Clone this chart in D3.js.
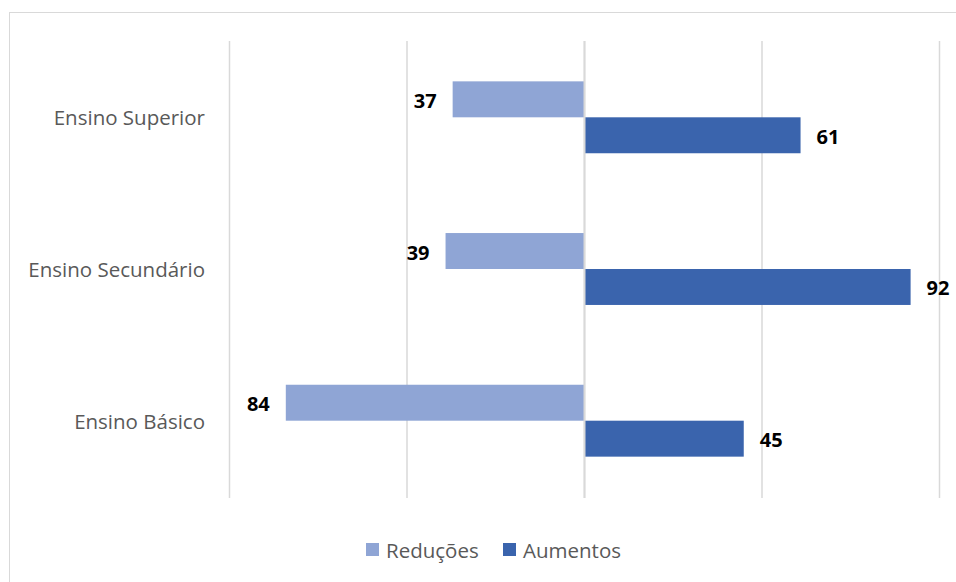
<!DOCTYPE html>
<html>
<head>
<meta charset="utf-8">
<script src="https://cdn.jsdelivr.net/npm/d3@7"></script>
<style>
  html, body { margin: 0; padding: 0; background: #fff; }
  svg { display: block; }
</style>
</head>
<body>
<script>
// Education levels, top to bottom
const categories = ["Ensino Superior", "Ensino Secundário", "Ensino Básico"];
const seriesNames = ["Reduções", "Aumentos"];
const reducoes = [37, 39, 84];
const aumentos = [61, 92, 45];
const gridTicks = [-100, -50, 0, 50, 100];

const W = 956, H = 582;
const colors = { "Reduções": "#8FA5D5", "Aumentos": "#3A64AD" };
const font = "'Open Sans', sans-serif";

const svg = d3.select("body").append("svg")
  .attr("width", W).attr("height", H);

// chart frame
svg.append("rect")
  .attr("x", 9.5).attr("y", 12.5)
  .attr("width", W + 20).attr("height", H + 20)
  .attr("fill", "#fff").attr("stroke", "#d9d9d9").attr("stroke-width", 1);

const x = d3.scaleLinear().domain([-100, 100]).range([229, 939]);
const y = d3.scaleBand().domain(categories).range([41, 497]).paddingInner(0.526).paddingOuter(0.266);
const sub = d3.scaleBand().domain(seriesNames).range([0, y.bandwidth()]);

// vertical gridlines
svg.append("g").selectAll("line").data(gridTicks).join("line")
  .attr("x1", d => x(d) + 0.5).attr("x2", d => x(d) + 0.5)
  .attr("y1", 41).attr("y2", 498)
  .attr("stroke", "#d9d9d9").attr("stroke-width", 1.5);

const rows = categories.map((c, i) => ({ c, red: reducoes[i], aum: aumentos[i] }));

const g = svg.append("g");
// reductions extend to the left of zero
g.selectAll("rect.red").data(rows).join("rect")
  .attr("class", "red")
  .attr("x", d => x(-d.red)).attr("width", d => x(0) - x(-d.red))
  .attr("y", d => y(d.c) + sub("Reduções")).attr("height", sub.bandwidth())
  .attr("fill", colors["Reduções"]);
// increases extend to the right of zero
g.selectAll("rect.aum").data(rows).join("rect")
  .attr("class", "aum")
  .attr("x", x(0)).attr("width", d => x(d.aum) - x(0))
  .attr("y", d => y(d.c) + sub("Aumentos")).attr("height", sub.bandwidth())
  .attr("fill", colors["Aumentos"]);

// zero axis line over the bars
svg.append("line")
  .attr("x1", x(0) + 0.5).attr("x2", x(0) + 0.5)
  .attr("y1", 41).attr("y2", 498)
  .attr("stroke", "#d9d9d9").attr("stroke-width", 2);

// value labels
g.selectAll("text.redl").data(rows).join("text")
  .attr("x", d => x(-d.red) - 16)
  .attr("y", d => y(d.c) + sub("Reduções") + sub.bandwidth() / 2 + 1)
  .attr("text-anchor", "end").attr("dominant-baseline", "central")
  .attr("font-family", font).attr("font-weight", "bold").attr("font-size", 20)
  .attr("fill", "#000").text(d => d.red);
g.selectAll("text.auml").data(rows).join("text")
  .attr("x", d => x(d.aum) + 16)
  .attr("y", d => y(d.c) + sub("Aumentos") + sub.bandwidth() / 2 + 1)
  .attr("text-anchor", "start").attr("dominant-baseline", "central")
  .attr("font-family", font).attr("font-weight", "bold").attr("font-size", 20)
  .attr("fill", "#000").text(d => d.aum);

// category labels
svg.append("g").selectAll("text").data(categories).join("text")
  .attr("x", 205).attr("y", d => y(d) + y.bandwidth() / 2)
  .attr("text-anchor", "end").attr("dominant-baseline", "central")
  .attr("font-family", font).attr("font-size", 20.5).attr("fill", "#595959")
  .text(d => d);

// legend
const legendItems = [{ n: "Reduções", x: 366 }, { n: "Aumentos", x: 503 }];
const lg = svg.append("g");
lg.selectAll("rect").data(legendItems).join("rect")
  .attr("x", d => d.x).attr("y", 543).attr("width", 13).attr("height", 13)
  .attr("fill", d => colors[d.n]);
lg.selectAll("text").data(legendItems).join("text")
  .attr("x", d => d.x + 20).attr("y", 550)
  .attr("dominant-baseline", "central")
  .attr("font-family", font).attr("font-size", 20.5).attr("fill", "#595959")
  .text(d => d.n);
</script>
</body>
</html>
